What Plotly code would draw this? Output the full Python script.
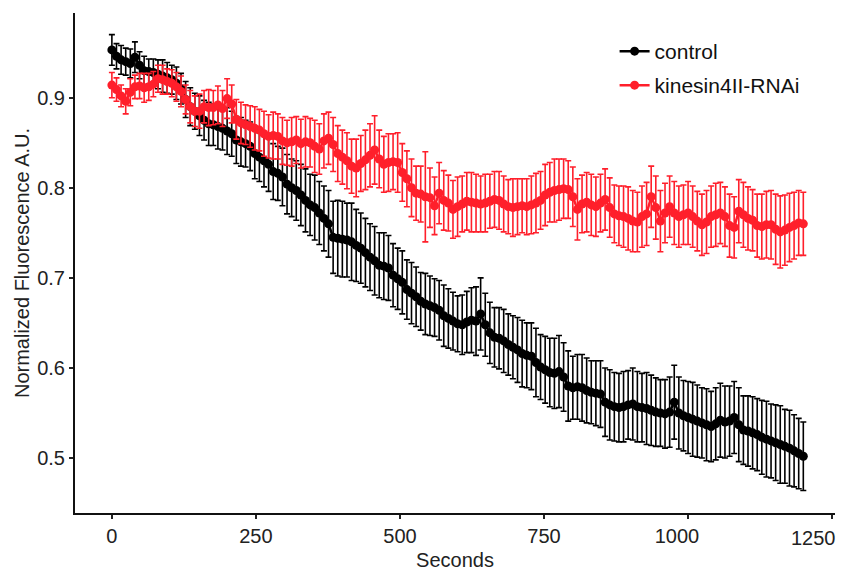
import plotly.graph_objects as go

# Sample times (seconds), one reading every 8 s from 0 to 1200
seconds = list(range(0, 1201, 8))

control_mean = [
    0.953, 0.946, 0.942, 0.940, 0.938, 0.945, 0.936, 0.930, 0.929, 0.928,
    0.926, 0.924, 0.922, 0.920, 0.916, 0.910, 0.898, 0.890, 0.885, 0.880,
    0.875, 0.871, 0.870, 0.868, 0.866, 0.863, 0.860, 0.853, 0.851, 0.849,
    0.846, 0.838, 0.834, 0.830, 0.826, 0.818, 0.816, 0.812, 0.804, 0.800,
    0.797, 0.792, 0.786, 0.781, 0.778, 0.772, 0.766, 0.760, 0.745, 0.744,
    0.743, 0.742, 0.740, 0.736, 0.733, 0.728, 0.723, 0.719, 0.714, 0.713,
    0.711, 0.703, 0.699, 0.695, 0.687, 0.683, 0.679, 0.674, 0.671, 0.669,
    0.667, 0.664, 0.658, 0.655, 0.652, 0.649, 0.648, 0.651, 0.653, 0.652,
    0.660, 0.648, 0.639, 0.634, 0.633, 0.630, 0.626, 0.623, 0.620, 0.616,
    0.614, 0.613, 0.606, 0.601, 0.598, 0.595, 0.594, 0.596, 0.590, 0.580,
    0.578, 0.579, 0.578, 0.575, 0.573, 0.572, 0.571, 0.562, 0.559, 0.557,
    0.556, 0.557, 0.559, 0.560, 0.557, 0.556, 0.555, 0.553, 0.551, 0.550,
    0.549, 0.551, 0.562, 0.550, 0.547, 0.545, 0.543, 0.541, 0.539, 0.537,
    0.535, 0.538, 0.542, 0.540, 0.541, 0.545, 0.537, 0.531, 0.530, 0.528,
    0.526, 0.523, 0.521, 0.519, 0.517, 0.515, 0.513, 0.511, 0.508, 0.505,
    0.502,
]
control_err = [
    0.017, 0.014, 0.016, 0.015, 0.016, 0.017, 0.015, 0.016, 0.014, 0.015,
    0.016, 0.018, 0.017, 0.016, 0.018, 0.017, 0.020, 0.021, 0.020, 0.022,
    0.022, 0.024, 0.023, 0.025, 0.024, 0.026, 0.025, 0.026, 0.027, 0.026,
    0.027, 0.028, 0.027, 0.029, 0.030, 0.031, 0.030, 0.032, 0.033, 0.032,
    0.033, 0.034, 0.035, 0.034, 0.036, 0.035, 0.036, 0.037, 0.040, 0.042,
    0.042, 0.041, 0.043, 0.040, 0.039, 0.038, 0.037, 0.038, 0.036, 0.037,
    0.036, 0.035, 0.034, 0.035, 0.033, 0.034, 0.033, 0.032, 0.034, 0.033,
    0.032, 0.033, 0.034, 0.033, 0.032, 0.031, 0.033, 0.034, 0.036, 0.038,
    0.040, 0.035, 0.034, 0.033, 0.034, 0.035, 0.034, 0.035, 0.036, 0.037,
    0.036, 0.037, 0.038, 0.036, 0.037, 0.038, 0.039, 0.040, 0.038, 0.039,
    0.035, 0.036, 0.037, 0.036, 0.035, 0.036, 0.037, 0.038, 0.039, 0.038,
    0.038, 0.039, 0.038, 0.040, 0.039, 0.038, 0.040, 0.039, 0.038, 0.037,
    0.038, 0.039, 0.041, 0.040, 0.039, 0.040, 0.041, 0.040, 0.039, 0.040,
    0.039, 0.040, 0.041, 0.040, 0.039, 0.040, 0.041, 0.038, 0.039, 0.040,
    0.040, 0.041, 0.042, 0.041, 0.042, 0.043, 0.041, 0.042, 0.040, 0.039,
    0.038,
]
rnai_mean = [
    0.914, 0.909, 0.902, 0.896, 0.906, 0.912, 0.913, 0.911, 0.912, 0.915,
    0.921, 0.920, 0.918, 0.916, 0.912, 0.907, 0.898, 0.890, 0.885, 0.885,
    0.890, 0.889, 0.889, 0.892, 0.888, 0.899, 0.893, 0.876, 0.872, 0.870,
    0.868, 0.866, 0.864, 0.860, 0.857, 0.858, 0.857, 0.852, 0.850, 0.851,
    0.853, 0.849, 0.851, 0.850, 0.846, 0.843, 0.852, 0.855, 0.848, 0.838,
    0.834, 0.830, 0.824, 0.822, 0.827, 0.831, 0.836, 0.842, 0.832, 0.826,
    0.828, 0.829, 0.828, 0.817, 0.810, 0.800, 0.794, 0.793, 0.790, 0.789,
    0.780, 0.794, 0.786, 0.783, 0.776, 0.779, 0.782, 0.785, 0.784, 0.783,
    0.782, 0.783, 0.785, 0.787, 0.786, 0.782, 0.779, 0.778, 0.779, 0.780,
    0.779, 0.781, 0.783, 0.786, 0.792, 0.795, 0.797, 0.798, 0.799, 0.798,
    0.790, 0.776, 0.782, 0.784, 0.781, 0.779, 0.783, 0.787, 0.778, 0.771,
    0.769, 0.768, 0.766, 0.763, 0.762, 0.768, 0.771, 0.790, 0.778, 0.763,
    0.772, 0.779, 0.772, 0.768, 0.770, 0.772, 0.768, 0.763, 0.759, 0.762,
    0.768, 0.770, 0.772, 0.768, 0.758, 0.756, 0.774, 0.770, 0.766, 0.764,
    0.758, 0.757, 0.759, 0.759, 0.754, 0.751, 0.753, 0.756, 0.758, 0.761,
    0.760,
]
rnai_err = [
    0.014, 0.013, 0.012, 0.014, 0.015, 0.013, 0.014, 0.016, 0.015, 0.014,
    0.015, 0.016, 0.014, 0.015, 0.016, 0.017, 0.016, 0.018, 0.017, 0.019,
    0.018, 0.020, 0.019, 0.021, 0.020, 0.022, 0.021, 0.022, 0.023, 0.022,
    0.023, 0.024, 0.023, 0.025, 0.024, 0.026, 0.025, 0.026, 0.025, 0.027,
    0.026, 0.027, 0.028, 0.027, 0.029, 0.028, 0.030, 0.029, 0.030, 0.031,
    0.030, 0.031, 0.030, 0.032, 0.031, 0.033, 0.035, 0.038, 0.032, 0.031,
    0.032, 0.031, 0.033, 0.032, 0.031, 0.032, 0.030, 0.031, 0.050, 0.033,
    0.032, 0.034, 0.033, 0.031, 0.032, 0.033, 0.031, 0.032, 0.033, 0.032,
    0.031, 0.032, 0.030, 0.031, 0.032, 0.031, 0.030, 0.032, 0.031, 0.030,
    0.031, 0.032, 0.033, 0.032, 0.034, 0.033, 0.035, 0.034, 0.033, 0.032,
    0.033, 0.034, 0.032, 0.033, 0.034, 0.033, 0.032, 0.034, 0.033, 0.032,
    0.033, 0.034, 0.035, 0.034, 0.033, 0.034, 0.035, 0.034, 0.035, 0.034,
    0.033, 0.034, 0.035, 0.034, 0.033, 0.035, 0.034, 0.033, 0.034, 0.035,
    0.034, 0.035, 0.034, 0.033, 0.035, 0.034, 0.035, 0.036, 0.035, 0.034,
    0.035, 0.036, 0.037, 0.038, 0.039, 0.040, 0.039, 0.038, 0.037, 0.036,
    0.035,
]

x_ticks = [0, 250, 500, 750, 1000, 1250]
x_ticklabels = ["0", "250", "500", "750", "1000", "1250"]
y_ticks = [0.5, 0.6, 0.7, 0.8, 0.9]

BLACK = "#000000"
RED = "#FF1F2B"
FONT = "Liberation Sans, Arial, sans-serif"
NB = "\u00a0"

fig = go.Figure()
for name, mean, err, col, leg in [
    ("control", control_mean, control_err, BLACK, "legend"),
    ("kinesin4II-RNAi", rnai_mean, rnai_err, RED, "legend2"),
]:
    fig.add_trace(go.Scatter(
        x=seconds, y=mean, name=name, mode="lines+markers", legend=leg,
        line=dict(color=col, width=2.5),
        marker=dict(color=col, size=9, symbol="circle"),
        error_y=dict(type="data", array=err, visible=True, color=col,
                     thickness=1.6, width=3),
    ))

axis_common = dict(
    showline=True, linecolor="#111111", linewidth=2,
    ticks="outside", ticklen=4, tickwidth=1.8, tickcolor="#222222",
    showgrid=False, zeroline=False, automargin=False,
    tickfont=dict(family=FONT, size=20, color="#222222"),
    mirror=False,
)

legend_common = dict(
    xanchor="left", yanchor="top", itemwidth=30,
    font=dict(family=FONT, size=21, color="#111111"),
    bgcolor="rgba(0,0,0,0)",
)

# Tick texts: the last label sits left of its tick in the reference,
# so it is drawn as an annotation anchored at that tick.
ticktext = list(x_ticklabels[:-1]) + [""]
ticktext[4] = x_ticklabels[4] + NB * 4

# The page body adds an 8 px offset, so the figure is shifted accordingly.
fig.update_layout(
    width=845, height=564,
    margin=dict(l=67, r=18, t=5, b=59),
    paper_bgcolor="white", plot_bgcolor="white",
    font=dict(family=FONT, size=20, color="#222222"),
    showlegend=True,
    legend=dict(x=0.710, y=0.964, **legend_common),
    legend2=dict(x=0.710, y=0.896, **legend_common),
    xaxis=dict(range=[-64, 1255], tickvals=x_ticks, ticktext=ticktext,
               title=dict(text="Seconds", font=dict(family=FONT, size=20), standoff=7),
               **axis_common),
    yaxis=dict(range=[0.439, 0.994], tickvals=y_ticks,
               ticktext=[f"{v:.1f}" for v in y_ticks],
               title=dict(text="Normalized Fluorescence A.U.",
                          font=dict(family=FONT, size=20), standoff=2),
               **axis_common),
    annotations=[dict(
        x=x_ticks[-1], xref="x", y=0, yref="paper",
        text=x_ticklabels[-1], showarrow=False,
        xanchor="right", yanchor="top", xshift=6, yshift=-12,
        font=dict(family=FONT, size=20, color="#222222"),
    )],
)

fig.write_html("out.html")
